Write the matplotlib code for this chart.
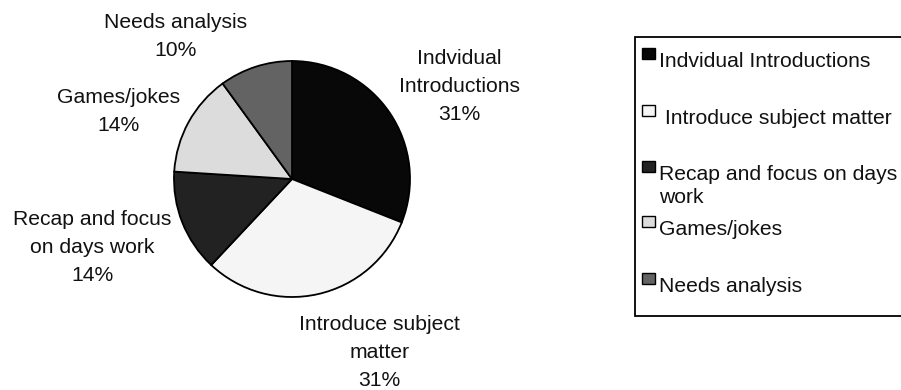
import matplotlib
matplotlib.use("Agg")
import matplotlib.pyplot as plt
from matplotlib.patches import Rectangle

plt.rcParams['font.family'] = ['Liberation Sans', 'DejaVu Sans']

# data
labels = ["Indvidual Introductions", "Introduce subject matter",
          "Recap and focus on days work", "Games/jokes", "Needs analysis"]
values = [31, 31, 14, 14, 10]
pie_labels = ["Indvidual\nIntroductions", "Introduce subject\nmatter",
              "Recap and focus\non days work", "Games/jokes", "Needs analysis"]
legend_labels = ["Indvidual Introductions", " Introduce subject matter",
                 "Recap and focus on days\nwork", "Games/jokes", "Needs analysis"]
colors = ["#080808", "#f5f5f5", "#222222", "#dcdcdc", "#636363"]

# layout (pixels / data units)
W, H = 901, 390
cx, cy, r = 292, 179, 118
label_pos = [(1.42, 0.78), (0.74, -1.47), (-1.69, -0.58), (-1.47, 0.57), (-0.99, 1.21)]
leg_y = [60, 117, 173, 228, 285]

fig = plt.figure(figsize=(W / 100, H / 100), dpi=100)
fig.patch.set_facecolor("white")

ax = fig.add_axes([(cx - r) / W, (H - cy - r) / H, 2 * r / W, 2 * r / H])
wedges, _ = ax.pie(values, colors=colors, startangle=90, counterclock=False,
                   wedgeprops=dict(edgecolor="black", linewidth=1.3))
ax.set_xlim(-1, 1)
ax.set_ylim(-1, 1)
ax.set_aspect("auto")
ax.axis("off")

for lab, v, (x, y) in zip(pie_labels, values, label_pos):
    ax.text(x, y, f"{lab}\n{v}%", ha="center", va="center", fontsize=15.2,
            linespacing=1.6, color="#111111")

# legend drawn in pixel coords
lax = fig.add_axes([0, 0, 1, 1], zorder=-1)
lax.set_xlim(0, W)
lax.set_ylim(H, 0)
lax.axis("off")
lax.add_patch(Rectangle((635, 37), 300, 279, facecolor="white",
                        edgecolor="black", linewidth=1.3))
for lab, c, y in zip(legend_labels, colors, leg_y):
    lax.add_patch(Rectangle((641.5, y - 12), 13, 11, facecolor=c,
                            edgecolor="black", linewidth=1.0))
    lax.text(659, y - 8, lab, ha="left", va="top", fontsize=15.2,
             linespacing=1.25, color="#111111")

fig.savefig("out.png", dpi=100)
